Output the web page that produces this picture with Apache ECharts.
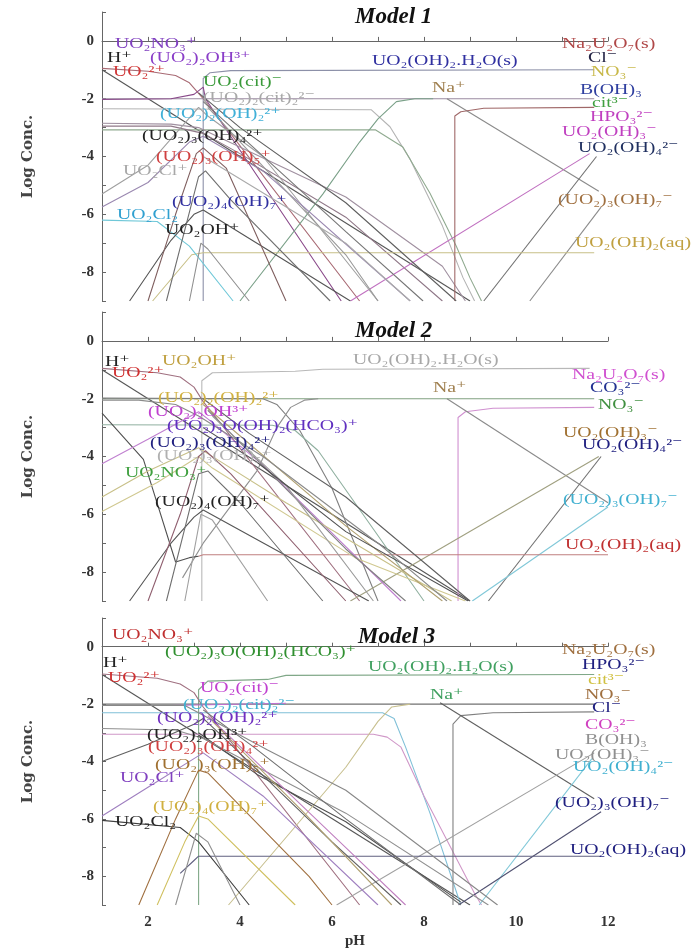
<!DOCTYPE html>
<html><head><meta charset="utf-8">
<script src="https://cdn.jsdelivr.net/npm/echarts@6/dist/echarts.min.js"></script>
<style>html,body{margin:0;padding:0;background:#fff}#c{width:691px;height:950px}</style>
</head><body><div id="c"></div>
<script>
// ---------- DATA (pH, log concentration) ----------
const yTickLabels = [0, -2, -4, -6, -8];
const xTickLabels = [2, 4, 6, 8, 10, 12];
const modelTitles = ['Model 1', 'Model 2', 'Model 3'];

const model1Curves = [
  [[3.2,-9],[3.2,-1.3],[3.35,-1.1],[3.8,-1.03],[11.7,-1.0]],
  [[1,-1.0],[9,-9]],
  [[1,-0.95],[2,-1.05],[2.6,-1.2],[2.9,-1.45],[3.2,-2.0],[3.6,-2.8],[6.6,-9]],
  [[1,-2.0],[11.7,-2.0]],
  [[1,-2.03],[2.5,-2.0],[3.0,-1.85],[3.2,-1.6],[3.25,-2.0],[3.5,-2.6],[6.2,-9]],
  [[1,-2.35],[6.85,-2.38],[7.26,-2.97],[7.7,-4.1],[8.4,-6.4],[8.85,-8.2],[9.1,-9]],
  [[1,-3.08],[6.95,-3.08],[7.54,-3.67],[8.13,-5.27],[8.7,-7.1],[9.0,-8.2],[9.25,-9]],
  [[1,-2.85],[2.5,-2.88],[3.1,-3.0],[3.5,-3.3],[6.3,-5.4],[8.4,-7.8],[8.9,-9]],
  [[1,-2.95],[2.5,-2.95],[3.2,-3.2],[4,-3.9],[6.3,-6.1],[8.4,-9]],
  [[4.0,-9],[5.8,-5.3],[6.6,-3.5],[7.0,-2.7],[7.4,-2.1],[7.8,-2.0],[8.2,-2.0]],
  [[8.5,-2.0],[11.8,-5.2]],
  [[6.4,-9],[11.6,-3.9]],
  [[9.3,-9],[11.75,-4.0]],
  [[10.3,-9],[11.85,-5.75]],
  [[2.1,-9],[2.95,-7.4],[3.2,-7.33],[11.7,-7.33]],
  [[8.67,-9],[8.67,-2.6],[8.8,-2.45],[9.3,-2.33],[11.7,-2.3]],
  [[1,-6.2],[2.2,-6.25],[2.9,-7.1],[3.85,-9]],
  [[1.6,-9],[2.5,-6.9],[3.0,-6.0],[3.2,-5.85],[6.4,-9]],
  [[1,-5.3],[2.0,-4.3],[3.1,-2.3],[3.3,-2.6],[4.5,-4.0],[7.0,-9]],
  [[1,-5.75],[2.0,-4.9],[2.9,-3.5],[3.2,-3.3],[4.5,-4.5],[7.7,-9]],
  [[2.0,-9],[2.6,-6.0],[3.05,-3.9],[3.2,-3.7],[3.7,-4.4],[5.0,-9]],
  [[2.4,-9],[3.1,-4.7],[3.25,-4.5],[3.8,-5.5],[5.96,-9]],
  [[2.9,-9],[3.15,-7.0],[3.3,-7.2],[4.2,-9]],
  [[3.1,-1.8],[4.0,-3.0],[6.3,-5.6],[8.7,-9]],
  [[3.2,-2.1],[6.3,-6.6],[7.98,-9]],
  [[3.3,-2.3],[6.3,-7.4],[7.0,-9]],
  [[3.2,-4.0],[6.3,-7.0],[7.7,-9]]
];
const model2Curves = [
  [[3.17,-9],[3.17,-1.38],[3.4,-1.1],[5.2,-1.05],[5.8,-0.98],[11.6,-0.95]],
  [[1,-1.0],[9,-9]],
  [[1,-0.95],[2.2,-1.1],[2.7,-1.25],[3.0,-1.6],[3.2,-2.1],[3.6,-2.9],[6.6,-9]],
  [[1,-2.0],[11.7,-2.0]],
  [[1,-1.98],[4.5,-2.0],[4.8,-2.2],[5.3,-3.1],[6.0,-5.1],[7.0,-9]],
  [[8.74,-9],[8.74,-2.65],[8.9,-2.45],[9.5,-2.33],[11.7,-2.3]],
  [[1,-2.9],[4.7,-2.92],[5.2,-3.1],[5.7,-3.8],[8.0,-9]],
  [[2.75,-8.2],[3.2,-7.0],[4.37,-4.5],[4.8,-3.0],[5.1,-2.3],[5.4,-2.05],[5.7,-2.0]],
  [[8.5,-2.0],[12,-5.6]],
  [[6.4,-9],[11.8,-4.0]],
  [[9.4,-9],[11.85,-4.0]],
  [[9.05,-9],[12,-5.75]],
  [[3.1,-7.45],[3.2,-7.4],[12,-7.4]],
  [[1,-2.5],[1.9,-4.1],[2.6,-7.65],[2.9,-7.5],[3.1,-7.45]],
  [[1,-4.25],[2.0,-3.4],[3.1,-2.45],[3.3,-2.7],[4.5,-4.3],[7.5,-9]],
  [[1,-5.4],[2.0,-4.5],[3.1,-3.7],[3.3,-3.9],[5.0,-5.6],[8.6,-9]],
  [[1,-5.9],[2.2,-4.9],[3.1,-4.0],[3.4,-4.4],[6.5,-7.5],[8.9,-9]],
  [[1.6,-9],[2.5,-7.0],[3.0,-6.1],[3.2,-5.85],[6.8,-9]],
  [[2.0,-9],[2.7,-6.0],[3.1,-4.0],[3.25,-3.8],[3.8,-4.6],[6.3,-9]],
  [[2.4,-9],[3.1,-4.6],[3.3,-4.5],[4.0,-5.6],[5.8,-9]],
  [[2.8,-9],[3.15,-6.0],[3.4,-6.2],[4.6,-9]],
  [[3.2,-2.0],[4.2,-3.2],[6.3,-5.4],[9.0,-9]],
  [[3.2,-2.2],[6.3,-6.4],[8.4,-9]],
  [[3.3,-2.4],[6.3,-7.2],[7.6,-9]],
  [[3.4,-2.6],[5.0,-5.0],[6.9,-9]],
  [[3.2,-3.0],[4.37,-4.2],[6.3,-6.6],[8.96,-9]],
  [[1,-2.05],[1.8,-2.05],[2.6,-2.2],[3.1,-2.6],[4.5,-4.0],[7.0,-7.0],[8.5,-9]]
];
const model3Curves = [
  [[3.1,-9],[3.1,-1.5],[3.3,-1.2],[4.6,-1.14],[5.0,-1.0],[11.7,-0.97]],
  [[1,-0.97],[9,-9]],
  [[1,-0.95],[2.2,-1.1],[2.7,-1.3],[3.0,-1.6],[3.2,-2.1],[3.6,-2.9],[6.6,-9]],
  [[1,-2.0],[11.7,-2.0]],
  [[2.5,-2.05],[5.0,-1.97]],
  [[1,-2.3],[7.1,-2.3],[7.35,-2.5],[7.6,-3.5],[8.13,-5.8],[8.8,-9]],
  [[1,-3.05],[6.9,-3.05],[7.2,-3.15],[7.5,-3.5],[8.0,-5.2],[9.1,-8.6],[9.25,-9]],
  [[8.63,-9],[8.63,-2.7],[8.8,-2.4],[9.5,-2.3],[11.7,-2.27]],
  [[3.75,-9],[6.3,-4.2],[7.0,-2.6],[7.3,-2.1],[7.7,-2.0]],
  [[8.35,-1.95],[11.7,-5.3]],
  [[6.1,-9],[11.7,-3.7]],
  [[9.2,-9],[11.65,-3.9]],
  [[8.75,-9],[11.85,-5.75]],
  [[3.1,-3.0],[4.37,-4.45],[6.3,-6.1],[8.8,-8.9]],
  [[2.7,-7.9],[3.0,-7.45],[3.1,-7.3],[11.85,-7.3]],
  [[1,-6.05],[2.7,-6.3],[3.1,-6.8],[4.2,-9]],
  [[1,-2.85],[2.6,-2.9],[3.2,-3.2],[4.5,-4.3],[6.3,-5.8],[9.4,-9]],
  [[1,-4.0],[2.0,-3.4],[3.0,-2.7],[3.2,-2.5],[3.6,-3.1],[6.0,-6.8],[7.5,-9]],
  [[1,-5.9],[2.0,-4.9],[3.0,-3.9],[3.2,-3.7],[4.5,-5.2],[7.0,-9]],
  [[1.8,-9],[2.6,-6.0],[3.1,-4.3],[3.3,-4.4],[5.5,-8.0],[6.0,-9]],
  [[2.2,-9],[2.8,-6.8],[3.1,-5.9],[3.3,-6.0],[5.2,-9]],
  [[2.6,-9],[3.05,-6.5],[3.3,-6.8],[4.0,-9]],
  [[3.2,-2.2],[4.3,-3.5],[6.3,-6.0],[8.8,-9]],
  [[3.3,-2.4],[6.3,-7.0],[7.6,-9]],
  [[3.4,-2.6],[5.4,-5.8],[7.3,-9]],
  [[1,-2.05],[2.8,-2.05],[3.1,-2.3],[4.6,-3.6],[6.3,-5.0],[9.6,-9]]
];

const model1Labels = ['UO₂NO₃⁺','H⁺','(UO₂)₂OH³⁺','UO₂²⁺','UO₂(cit)⁻','(UO₂)₂(cit)₂²⁻','(UO₂)₂(OH)₂²⁺','(UO₂)₃(OH)₄²⁺','(UO₂)₃(OH)₅⁺','UO₂Cl⁺','(UO₂)₄(OH)₇⁺','UO₂Cl₂','UO₂OH⁺',
  'UO₂(OH)₂.H₂O(s)','Na₂U₂O₇(s)','Cl⁻','NO₃⁻','Na⁺','B(OH)₃','cit³⁻','HPO₃²⁻','UO₂(OH)₃⁻','UO₂(OH)₄²⁻','(UO₂)₃(OH)₇⁻','UO₂(OH)₂(aq)'];
const model2Labels = ['H⁺','UO₂²⁺','UO₂OH⁺','(UO₂)₂(OH)₂²⁺','(UO₂)₂OH³⁺','(UO₂)₃O(OH)₂(HCO₃)⁺','(UO₂)₃(OH)₄²⁺','(UO₂)₃(OH)₅⁺','UO₂NO₃⁺','(UO₂)₄(OH)₇⁺',
  'UO₂(OH)₂.H₂O(s)','Na₂U₂O₇(s)','Na⁺','CO₃²⁻','NO₃⁻','UO₂(OH)₃⁻','UO₂(OH)₄²⁻','(UO₂)₃(OH)₇⁻','UO₂(OH)₂(aq)'];
const model3Labels = ['UO₂NO₃⁺','(UO₂)₃O(OH)₂(HCO₃)⁺','H⁺','UO₂²⁺','UO₂(cit)⁻','(UO₂)₂(cit)₂²⁻','(UO₂)₂(OH)₂²⁺','(UO₂)₂OH³⁺','(UO₂)₃(OH)₄²⁺','(UO₂)₃(OH)₅⁺','UO₂Cl⁺','(UO₂)₄(OH)₇⁺','UO₂Cl₂',
  'UO₂(OH)₂.H₂O(s)','Na₂U₂O₇(s)','HPO₃²⁻','cit³⁻','Na⁺','NO₃⁻','Cl⁻','CO₃²⁻','B(OH)₃','UO₂(OH)₃⁻','UO₂(OH)₄²⁻','(UO₂)₃(OH)₇⁻','UO₂(OH)₂(aq)'];

// ---------- STYLE / LAYOUT ----------
const model1CurveColors = ['#8c90a8','#555555','#a86a74','#9a8aa0','#8a4a8a','#b4b4b4','#90aa90','#a090a0','#907888','#7aa088','#8a8a8a','#c070c0','#707070','#8a8a8a','#c8c088','#a06868','#70c8d8','#555555','#a0a0a0','#9a88b0','#806060','#707070','#909090','#606060','#777777','#999999','#aaaaaa'];
const model2CurveColors = ['#b8b8b8','#555555','#a07080','#80a080','#808080','#d090d0','#90b0a0','#909090','#8a8a8a','#a0a080','#707070','#80c8d8','#c08080','#505050','#c080d0','#c8c088','#d0c890','#555555','#906070','#707070','#a0a0a0','#606060','#b0a070','#808080','#9a9a9a','#505050','#8a8a8a'];
const model3CurveColors = ['#80a888','#555555','#a07080','#707070','#c070d0','#80c0d8','#d098c8','#808080','#c8c090','#606060','#a0a0a0','#80c8d8','#505070','#505050','#606080','#404040','#909090','#606060','#a080c0','#a07040','#d0c060','#909090','#707070','#c080c0','#b0a070','#888888'];

const model1LabelColors = ['#8040c0','#222222','#8a3ec8','#d03838','#3a9a3a','#a8a8a8','#40b0d8','#222222','#d04040','#a8a8a8','#3030a0','#30a0d0','#222222',
  '#3030a0','#b04848','#222244','#c8b848','#a08050','#3040a0','#40a040','#c040c0','#c040c0','#203060','#a07040','#c0a040'];
const model2LabelColors = ['#222222','#d03030','#c0a040','#d0b040','#c040d0','#6030c0','#202080','#b0b0b0','#40a040','#222222',
  '#a8a8a8','#d050d0','#a08050','#203090','#409040','#a07030','#202080','#40b0d0','#c03030'];
const model3LabelColors = ['#c03030','#309030','#222222','#d03030','#c040d0','#40b0d0','#7030c0','#222222','#d04040','#a07030','#8040c0','#d0b040','#222222',
  '#40a060','#a07040','#202080','#d0c040','#40a060','#a07040','#202080','#d040c0','#909090','#909090','#40b0d0','#202080','#202080'];

// left x, centre y of each label (pixels)
const model1LabelPos = [[115,44],[107,58],[150,58],[113,72],[203,82],[203,98],[160,114],[142,136],[156,157],[123,171],[172,202],[117,215],[165,230],
  [372,61],[562,44],[588,58],[591,72],[432,88],[580,90],[592,103],[590,117],[562,132],[578,148],[558,200],[575,243]];
const model2LabelPos = [[105,362],[112,373],[162,361],[158,398],[148,412],[167,426],[150,443],[157,456],[125,473],[155,502],
  [353,360],[572,375],[433,388],[590,388],[598,405],[563,433],[582,445],[563,500],[565,545]];
const model3LabelPos = [[112,635],[165,652],[103,663],[108,678],[200,688],[183,705],[157,718],[147,735],[148,747],[155,765],[120,778],[153,807],[115,822],
  [368,667],[562,650],[582,665],[588,680],[430,695],[585,695],[592,708],[585,725],[585,740],[555,755],[573,767],[555,803],[570,850]];
const titlePos = [[355,17],[355,331],[358,637]];

const gridTops = [12, 312, 618];
const GRID_H = 289;

// ---------- BUILD ----------
const chart = echarts.init(document.getElementById('c'), null, {renderer:'canvas'});
const curvesAll = [model1Curves, model2Curves, model3Curves];
const colorsAll = [model1CurveColors, model2CurveColors, model3CurveColors];
const labelsAll = [model1Labels, model2Labels, model3Labels];
const labelColorsAll = [model1LabelColors, model2LabelColors, model3LabelColors];
const labelPosAll = [model1LabelPos, model2LabelPos, model3LabelPos];
const SERIF = "'Liberation Serif','DejaVu Serif',serif";

const grids = [], xAxes = [], yAxes = [], series = [], graphics = [];
for (let p = 0; p < 3; p++) {
  grids.push({left: 102, width: 506, top: gridTops[p], height: GRID_H});
  xAxes.push({
    type: 'value', gridIndex: p, min: 1, max: 12, interval: 1,
    axisLine: {lineStyle: {color: '#666', width: 1}},
    axisTick: {inside: true, length: 4, lineStyle: {color: '#666'}},
    axisLabel: {show: p === 2, margin: 10, color: '#333',
      fontFamily: SERIF, fontWeight: 'bold', fontSize: 15,
      formatter: v => xTickLabels.indexOf(v) >= 0 ? String(v) : ''},
    splitLine: {show: false},
    name: p === 2 ? 'pH' : '', nameLocation: 'middle', nameGap: 29,
    nameTextStyle: {fontFamily: SERIF, fontWeight: 'bold', fontSize: 15, color: '#333'}
  });
  yAxes.push({
    type: 'value', gridIndex: p, min: -9, max: 1, interval: 1,
    axisLine: {show: true, lineStyle: {color: '#666', width: 1}},
    axisTick: {show: true, inside: true, length: 4, lineStyle: {color: '#666'}},
    axisLabel: {margin: 8, color: '#333', fontFamily: SERIF, fontWeight: 'bold', fontSize: 15,
      formatter: v => yTickLabels.indexOf(v) >= 0 ? String(v) : ''},
    splitLine: {show: false},
    name: 'Log Conc.', nameLocation: 'middle', nameGap: 66, nameRotate: 90,
    nameTextStyle: {fontFamily: "'DejaVu Serif',serif", fontWeight: 'bold', fontSize: 15, color: '#444'}
  });
  curvesAll[p].forEach((pts, i) => {
    series.push({
      type: 'line', xAxisIndex: p, yAxisIndex: p, data: pts,
      showSymbol: false, symbol: 'none', silent: true, animation: false,
      lineStyle: {color: colorsAll[p][i], width: 1.1}
    });
  });
  graphics.push({
    type: 'text', x: titlePos[p][0], y: titlePos[p][1], z: 100,
    style: {text: modelTitles[p], fill: '#111', font: "italic bold 23px " + SERIF,
      textVerticalAlign: 'middle', verticalAlign: 'middle'}
  });
  labelsAll[p].forEach((t, i) => {
    graphics.push({
      type: 'text', x: labelPosAll[p][i][0], y: labelPosAll[p][i][1], scaleX: 1.32, z: 100,
      style: {text: t, fill: labelColorsAll[p][i], font: "15px " + SERIF,
        textVerticalAlign: 'middle', verticalAlign: 'middle'}
    });
  });
}

chart.setOption({
  animation: false,
  backgroundColor: '#ffffff',
  grid: grids, xAxis: xAxes, yAxis: yAxes, series: series, graphic: graphics
});
</script></body></html>
